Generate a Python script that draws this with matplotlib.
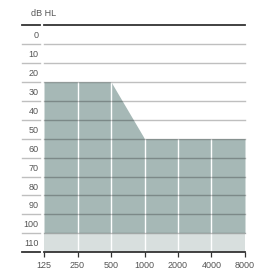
import matplotlib
matplotlib.use("Agg")
import matplotlib.pyplot as plt

# audiogram fitting range (dB HL), frequencies in Hz
freqs = [125, 250, 500, 1000, 2000, 4000, 8000]
fit_top = [25, 25, 25, 55, 55, 55, 55]
fit_bottom = [105, 105, 105, 105, 105, 105, 105]
levels = [0, 10, 20, 30, 40, 50, 60, 70, 80, 90, 100, 110]
freq_labels = ["125", "250", "500", "1000", "2000", "4000", "8000"]

plt.rcParams["font.family"] = ["Liberation Sans", "DejaVu Sans"]
TXT = "#555555"
DARK = "#333333"

W, H = 257, 271
fig = plt.figure(figsize=(W / 100, H / 100), dpi=100)
ax = fig.add_axes([44 / W, 1 - 252.3 / H, 201 / W, 227.3 / H])
ax.set_xscale("log", base=2)
ax.set_xlim(freqs[0], freqs[-1])
ymin, ymax = levels[0] - 5, levels[-1] + 5
ax.set_ylim(ymax, ymin)

# fitting range fills
ax.fill_between(freqs, fit_top, fit_bottom, color="#a6b8b6", lw=0, zorder=1)
ax.fill_between(freqs, fit_bottom, ymax, color="#d8dfde", lw=0, zorder=1)
ax.vlines(freqs[1:-1], ymin, ymax, color="white", lw=1.0, zorder=2)

# row separators, also running through the label column
ytr = ax.get_yaxis_transform()
seps = [l + 5 for l in levels[:-1]]
for y in seps:
    ax.plot([0, 1], [y, y], transform=ytr, color="black", alpha=0.25, lw=1.0, zorder=3, clip_on=False)
    ax.plot([-0.11, -0.02], [y, y], transform=ytr, color="black", alpha=0.25, lw=1.0, zorder=3, clip_on=False)
for y in (ymin, ymax):
    ax.plot([0, 1], [y, y], transform=ytr, color=DARK, lw=1.3, zorder=4, clip_on=False)
    ax.plot([-0.11, -0.02], [y, y], transform=ytr, color=DARK, lw=1.3, zorder=4, clip_on=False)

for s in ax.spines.values():
    s.set_visible(False)
ax.set_yticks(levels)
ax.set_yticklabels([str(l) for l in levels])
ax.tick_params(axis="y", length=0, pad=4, labelsize=6.5, labelcolor=TXT)
ax.set_xticks(freqs)
ax.set_xticklabels(freq_labels)
ax.xaxis.set_minor_locator(matplotlib.ticker.NullLocator())
ax.tick_params(axis="x", direction="out", length=3.5, width=0.9, color=DARK,
               pad=3, labelsize=6.5, labelcolor=TXT)

fig.text(31 / W, 1 - 14 / H, "dB HL", ha="left", va="center", fontsize=6.5, color=TXT)

fig.savefig("out.png", dpi=100)
